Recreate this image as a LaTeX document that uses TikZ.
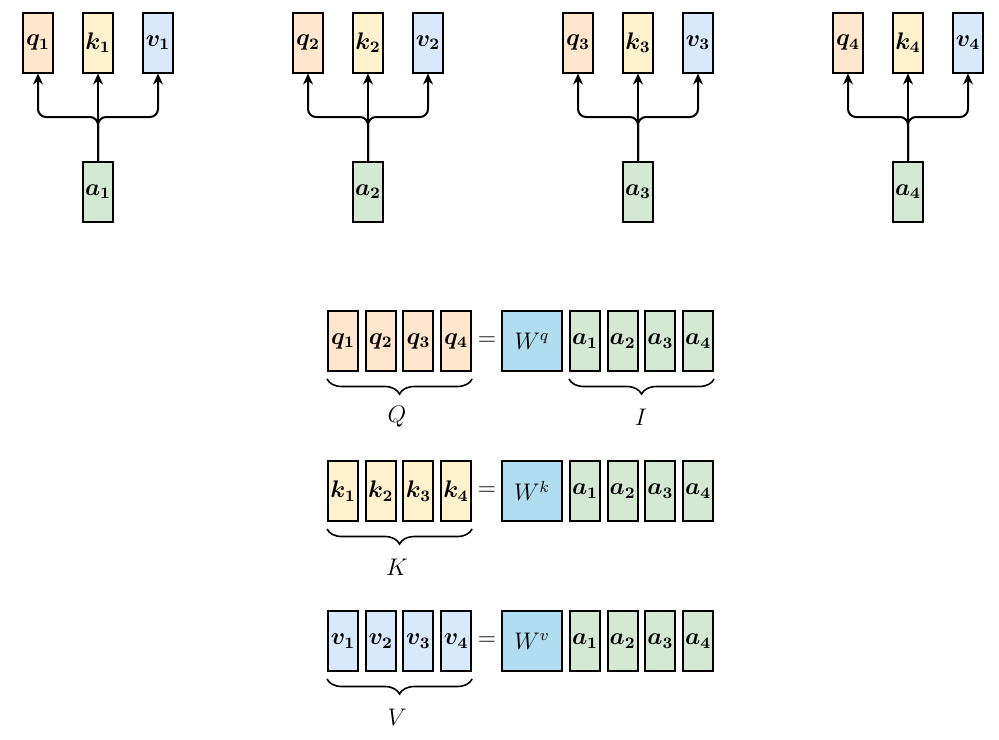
\documentclass[tikz,border=0pt]{standalone}
\usepackage{amsmath,bm}
\usetikzlibrary{arrows.meta,decorations.pathreplacing}

\definecolor{qcol}{HTML}{FFE6CC}
\definecolor{kcol}{HTML}{FFF2CC}
\definecolor{vcol}{HTML}{DAE8FC}
\definecolor{acol}{HTML}{D5E8D4}
\definecolor{wcol}{HTML}{B1DDF0}

\tikzset{
  vecbox/.style={draw, line width=1pt, minimum width=15pt, minimum height=30pt, inner sep=0pt},
  wbox/.style={vecbox, fill=wcol, minimum width=30pt},
  arr/.style={-{Stealth[length=5.5pt,width=5pt]}, line width=1pt, rounded corners=4pt},
  brc/.style={decorate, decoration={brace, mirror, amplitude=7.5pt}, line width=0.8pt}
}

\begin{document}
\begin{tikzpicture}[x=0.5pt,y=-0.5pt,font=\fontsize{11.5}{13}\selectfont]
\useasboundingbox (0,0) rectangle (999,739);

% one a_i feeding q_i, k_i, v_i
\foreach \i in {1,2,3,4} {
    \pgfmathsetmacro\xo{270*(\i-1)}
    \node[vecbox, fill=qcol] (q\i) at (38+\xo, 42.5)  {$\bm{q}_{\bm{\i}}$};
    \node[vecbox, fill=kcol] (k\i) at (98+\xo, 42.5)  {$\bm{k}_{\bm{\i}}$};
    \node[vecbox, fill=vcol] (v\i) at (158+\xo, 42.5) {$\bm{v}_{\bm{\i}}$};
    \node[vecbox, fill=acol] (a\i) at (98+\xo, 191.5) {$\bm{a}_{\bm{\i}}$};

    \coordinate (j\i) at (98+\xo, 117);
    \draw[arr] (a\i.north) -- (j\i) -| (q\i.south);
    \draw[arr] (a\i.north) -- (j\i) -| (v\i.south);
    \draw[arr] (a\i.north) -- (k\i.south);
}

% matrix form
\foreach \r/\y/\c/\s in {Q/341/qcol/q, K/491/kcol/k, V/641/vcol/v} {
    \foreach \j in {1,2,3,4} {
        \node[vecbox, fill=\c] (\r\j) at (343+37.7*\j-37.7, \y) {$\bm{\s}_{\bm{\j}}$};
        \node[vecbox, fill=acol] (\r a\j) at (585+37.7*\j-37.7, \y) {$\bm{a}_{\bm{\j}}$};
    }
    \node (eq\r) at (487, \y) {$=$};
    \node[wbox] (W\r) at (532, \y) {$W^{\s}$};
    \draw[brc] ([yshift=-3.5pt]\r1.south west) -- ([yshift=-3.5pt]\r4.south east);
    \node (lbl\r) at (397, \y+76) {$\r$};
}
\draw[brc] ([yshift=-3.5pt]Qa1.south west) -- ([yshift=-3.5pt]Qa4.south east);
\node (lblI) at (641, 417) {$I$};

\end{tikzpicture}
\end{document}
